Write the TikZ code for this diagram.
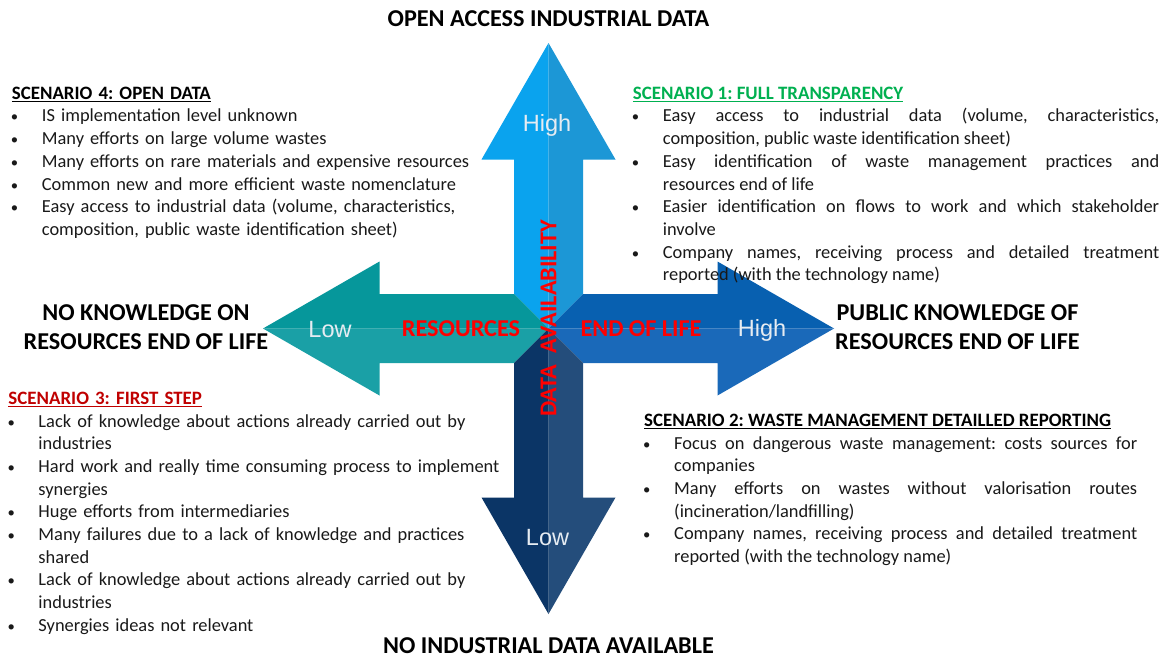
\documentclass[tikz,border=0pt]{standalone}
\usepackage{fontspec}
\setmainfont{Carlito}
\newfontfamily\arialfont{Liberation Sans}
\usepackage{xcolor}
\usepackage{graphicx}
\usetikzlibrary{positioning}
\frenchspacing

\definecolor{upA}{HTML}{0AA3EE}
\definecolor{upB}{HTML}{1C97D6}
\definecolor{rightA}{HTML}{0860B0}
\definecolor{rightB}{HTML}{1A69B9}
\definecolor{leftA}{HTML}{1AA0A6}
\definecolor{leftB}{HTML}{06979B}
\definecolor{downA}{HTML}{244D7B}
\definecolor{downB}{HTML}{0B3566}
\definecolor{lvlgray}{HTML}{E6ECF2}
\definecolor{scengreen}{HTML}{00B050}
\definecolor{scenred}{HTML}{C00000}

\newcommand{\scenhead}[2]{\noindent{\fontsize{18.9}{22.7}\selectfont\textcolor{#1}{\textbf{\underline{#2}}}}}
\newcommand{\itm}[1]{\par\hangindent=30pt\hangafter=1\noindent
  \makebox[30pt][l]{\hspace{-1pt}\scalebox{0.8}{\textbullet}}#1}

\tikzset{
  scen/.style = {anchor=north west, inner sep=0pt, text=black!90,
                 font=\fontsize{18.4}{22.7}\selectfont},
  axistitle/.style = {align=center, inner sep=0pt, font=\fontsize{24.2}{29}\selectfont\bfseries},
  lvl/.style = {anchor=base, inner sep=0pt, text=lvlgray,
                font=\arialfont\fontsize{23.5}{28}\selectfont},
  redlab/.style = {inner sep=0pt, text=red, font=\fontsize{24.2}{28}\selectfont\bfseries},
  pics/bigarrow/.style 2 args = {code={
    \fill[#1] (0,0) -- (34.5,-34.5) -- (169,-34.5) -- (169,-67) -- (285.5,0) -- cycle;
    \fill[#2] (0,0) -- (285.5,0) -- (169,67) -- (169,34.5) -- (34.5,34.5) -- cycle;
  }}
}

\begin{document}
\begin{tikzpicture}[x=1pt, y=-1pt]
  \path[use as bounding box, fill=white] (0,0) rectangle (1169,659);

  % the four arrows
  \coordinate (mid) at (548.5,328.5);
  \pic[rotate=90]  at (mid) {bigarrow={upA}{upB}};
  \pic[rotate=0]   at (mid) {bigarrow={rightA}{rightB}};
  \pic[rotate=180] at (mid) {bigarrow={leftA}{leftB}};
  \pic[rotate=-90] at (mid) {bigarrow={downA}{downB}};

  \node [lvl] (high-up)    at (547,131.6)   {High};
  \node [lvl] (high-right) at (762,336.6)   {High};
  \node [lvl] (low-left)   at (330,337.3)   {Low};
  \node [lvl] (low-down)   at (547.5,545.3) {Low};

  \node [redlab] (resources) at (461,328.5) {RESOURCES};
  \node [redlab] (endoflife) at (641,328.5) {END OF LIFE};
  \node [redlab, rotate=90] (dataavail) at (548.5,318.5) {DATA\ \ AVAILABILITY};

  % axis titles
  \node [axistitle, anchor=base] (top)    at (548.5,26.2)  {OPEN ACCESS INDUSTRIAL DATA};
  \node [axistitle, anchor=base] (bottom) at (548.5,653.2) {NO INDUSTRIAL DATA AVAILABLE};
  \node [axistitle] (left)  at (146,327.5) {NO KNOWLEDGE ON\\RESOURCES END OF LIFE};
  \node [axistitle] (right) at (957.5,327.5) {PUBLIC KNOWLEDGE OF\\RESOURCES END OF LIFE};

  % scenarios
  \node [scen, text width=480, align=left] (s4) at (11.7,86.7) {%
    \scenhead{black}{SCENARIO 4: OPEN DATA}
    \itm{IS implementation level unknown}
    \itm{Many efforts on large volume wastes}
    \itm{Many efforts on rare materials and expensive resources}
    \itm{Common new and more efficient waste nomenclature}
    \itm{Easy access to industrial data (volume, characteristics,\linebreak composition, public waste identification sheet)}\par};

  \node [scen, text width=526.3, align=justify] (s1) at (632.7,86.7) {%
    \scenhead{scengreen}{SCENARIO 1: FULL TRANSPARENCY}
    \itm{Easy access to industrial data (volume, characteristics,\linebreak composition, public waste identification sheet)}
    \itm{Easy identification of waste management practices and\linebreak resources end of life}
    \itm{Easier identification on flows to work and which stakeholder\linebreak involve}
    \itm{Company names, receiving process and detailed treatment\linebreak reported (with the technology name)}\par};

  \node [scen, text width=510, align=left] (s3) at (8.3,391.7) {%
    \scenhead{scenred}{SCENARIO 3: FIRST STEP}
    \itm{Lack of knowledge about actions already carried out by\linebreak industries}
    \itm{Hard work and really time consuming process to implement\linebreak synergies}
    \itm{Huge efforts from intermediaries}
    \itm{Many failures due to a lack of knowledge and practices\linebreak shared}
    \itm{Lack of knowledge about actions already carried out by\linebreak industries}
    \itm{Synergies ideas not relevant}\par};

  \node [scen, text width=493, align=justify] (s2) at (644,413.7) {%
    \scenhead{black}{SCENARIO 2: WASTE MANAGEMENT DETAILLED REPORTING}
    \itm{Focus on dangerous waste management: costs sources for\linebreak companies}
    \itm{Many efforts on wastes without valorisation routes\linebreak (incineration/landfilling)}
    \itm{Company names, receiving process and detailed treatment\linebreak reported (with the technology name)}\par};
\end{tikzpicture}
\end{document}
